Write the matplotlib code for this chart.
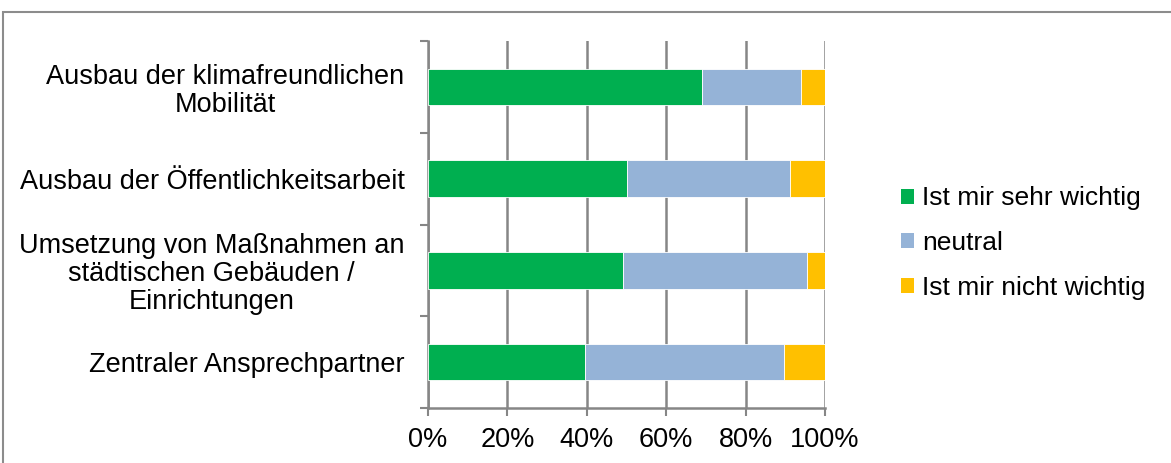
import matplotlib
matplotlib.use("Agg")
import matplotlib.pyplot as plt
from matplotlib.patches import Rectangle, Patch
from matplotlib.ticker import FixedLocator

plt.rcParams['font.family'] = ['Liberation Sans', 'DejaVu Sans']

categories = [
    "Ausbau der klimafreundlichen\nMobilität",
    "Ausbau der Öffentlichkeitsarbeit",
    "Umsetzung von Maßnahmen an\nstädtischen Gebäuden /\nEinrichtungen",
    "Zentraler Ansprechpartner",
]
series_names = ["Ist mir sehr wichtig", "neutral", "Ist mir nicht wichtig"]
sehr_wichtig = [69.0, 50.0, 49.2, 39.5]
neutral = [25.0, 41.2, 46.3, 50.1]
nicht_wichtig = [6.0, 8.8, 4.5, 10.4]
x_ticks = [0, 20, 40, 60, 80, 100]
x_tick_labels = ["0%", "20%", "40%", "60%", "80%", "100%"]

colors = ["#00AF50", "#95B3D7", "#FFC000"]
grid_color = "#868686"
fs = 19.5

fig = plt.figure(figsize=(11.71, 4.63), dpi=100)
ax = fig.add_axes([428 / 1171, 55 / 463, 397 / 1171, 367 / 463])

ypos = list(range(len(categories)))
left = [0.0] * len(categories)
for vals, col, name in zip([sehr_wichtig, neutral, nicht_wichtig], colors, series_names):
    ax.barh(ypos, vals, left=left, height=0.4, color=col, label=name,
            edgecolor="white", linewidth=0.6, zorder=3)
    left = [a + b for a, b in zip(left, vals)]

ax.set_xlim(0, 100)
ax.set_ylim(len(categories) - 0.5, -0.5)

ax.xaxis.set_major_locator(FixedLocator(x_ticks))
ax.set_xticklabels(x_tick_labels, fontsize=fs)
ax.tick_params(axis="x", length=6, width=1.5, color=grid_color, pad=7.5)

# category labels at bar centres, tick marks at category boundaries
ax.set_yticks(ypos)
ax.set_yticklabels(categories, fontsize=fs, multialignment="center",
                   linespacing=1.1)
ax.tick_params(axis="y", which="major", length=0, pad=17)
ax.yaxis.set_minor_locator(FixedLocator([i - 0.5 for i in range(len(categories) + 1)]))
ax.tick_params(axis="y", which="minor", length=6, width=1.5, color=grid_color)

ax.grid(axis="x", color=grid_color, linewidth=1.8, zorder=0)
ax.set_axisbelow(True)
for side in ["top", "right"]:
    ax.spines[side].set_visible(False)
for side in ["left", "bottom"]:
    ax.spines[side].set_color(grid_color)
    ax.spines[side].set_linewidth(1.8)

handles = [Patch(facecolor=c, edgecolor="none") for c in colors]
fig.legend(handles, series_names, loc="center left",
           bbox_to_anchor=(901 / 1171, 1 - 243 / 463), frameon=False,
           fontsize=19, handlelength=0.5, handleheight=0.5,
           handletextpad=0.3, labelspacing=0.78, borderpad=0,
           borderaxespad=0)

# outer chart border
fig.patches.append(Rectangle((3.5 / 1171, -0.01), 1.02, 1 - 11.5 / 463 + 0.01,
                             transform=fig.transFigure, fill=False,
                             edgecolor="#8C8C8C", linewidth=1.5))

fig.savefig("out.png", dpi=100)
